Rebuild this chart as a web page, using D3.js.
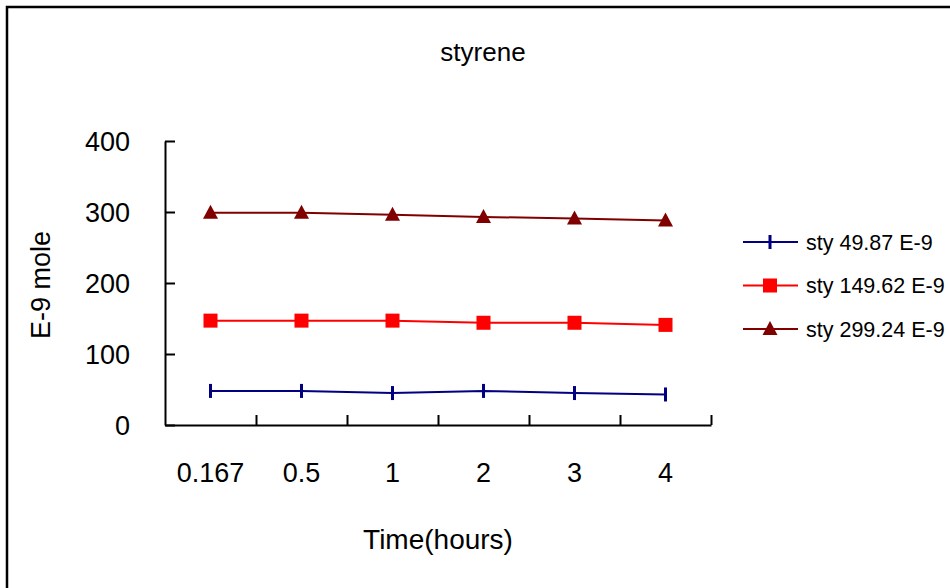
<!DOCTYPE html>
<html>
<head>
<meta charset="UTF-8">
<title>styrene</title>
<script src="https://d3js.org/d3.v7.min.js"></script>
<style>
  body { margin: 0; background: #fff; }
  text { font-family: "Liberation Sans", Arial, sans-serif; fill: #000; }
</style>
</head>
<body>
<div id="chart"></div>
<script>
// data
var categories = ["0.167", "0.5", "1", "2", "3", "4"];
var sty49 = [48, 48, 45, 48, 45, 43];
var sty149 = [147, 147, 147, 144, 144, 141];
var sty299 = [299, 299, 296, 293, 291, 288];
var seriesNames = ["sty 49.87 E-9", "sty 149.62 E-9", "sty 299.24 E-9"];
var yTicks = [0, 100, 200, 300, 400];

var series = [
  {name: seriesNames[0], values: sty49, color: "#000080", marker: "bar"},
  {name: seriesNames[1], values: sty149, color: "#ff0000", marker: "square"},
  {name: seriesNames[2], values: sty299, color: "#800000", marker: "triangle"}
];

var width = 950, height = 588;
var plotLeft = 165, plotRight = 711, plotTop = 141, plotBottom = 425;

var svg = d3.select("#chart").append("svg")
  .attr("width", width)
  .attr("height", height);

// outer frame (runs off the right and bottom edge)
svg.append("rect")
  .attr("x", 7).attr("y", 7)
  .attr("width", 960).attr("height", 600)
  .attr("fill", "none").attr("stroke", "#000").attr("stroke-width", 2.5);

var x = d3.scaleBand().domain(categories).range([plotLeft, plotRight]);
var xEdge = d3.scaleLinear().domain([0, categories.length]).range([plotLeft, plotRight]);
var y = d3.scaleLinear().domain([0, 400]).range([plotBottom, plotTop]);

// y axis, ticks pointing inside
var yAxis = svg.append("g")
  .attr("transform", "translate(" + plotLeft + ",0)")
  .call(d3.axisLeft(y).tickValues(yTicks).tickSize(-10).tickSizeOuter(0).tickPadding(35));
yAxis.select(".domain").attr("stroke-width", 2);
yAxis.selectAll(".tick line").attr("stroke-width", 2);
yAxis.selectAll(".tick text").attr("font-size", 27).attr("dy", "0.36em");

// x axis: ticks on category edges pointing up
var xAxis = svg.append("g")
  .attr("transform", "translate(0," + plotBottom + ")")
  .call(d3.axisBottom(xEdge).tickValues(d3.range(1, categories.length + 1))
    .tickSize(-10).tickSizeOuter(0).tickFormat(""));
xAxis.select(".domain").attr("stroke-width", 2);
xAxis.selectAll(".tick line").attr("stroke-width", 2);

// x labels
var xLabels = svg.append("g")
  .attr("transform", "translate(0," + plotBottom + ")")
  .call(d3.axisBottom(x).tickSize(0).tickPadding(38));
xLabels.select(".domain").remove();
xLabels.selectAll(".tick text").attr("font-size", 27);

// lines
var line = d3.line()
  .x(function(d, i) { return x(categories[i]) + x.bandwidth() / 2; })
  .y(function(d) { return y(d); });

function drawMarker(g, type, color) {
  if (type === "bar") {
    g.append("rect").attr("x", -1.5).attr("y", -7).attr("width", 3).attr("height", 14).attr("fill", color);
  } else if (type === "square") {
    g.append("rect").attr("x", -7).attr("y", -7).attr("width", 14).attr("height", 14).attr("fill", color);
  } else {
    g.append("path").attr("d", "M0,-8L7.5,6L-7.5,6Z").attr("fill", color);
  }
}

series.forEach(function(s) {
  svg.append("path")
    .datum(s.values)
    .attr("d", line)
    .attr("fill", "none")
    .attr("stroke", s.color)
    .attr("stroke-width", 2);
  s.values.forEach(function(v, i) {
    var g = svg.append("g")
      .attr("transform", "translate(" + (x(categories[i]) + x.bandwidth() / 2) + "," + y(v) + ")");
    drawMarker(g, s.marker, s.color);
  });
});

// title and axis titles
svg.append("text")
  .attr("x", 483).attr("y", 61)
  .attr("text-anchor", "middle").attr("font-size", 26)
  .text("styrene");

svg.append("text")
  .attr("x", 438).attr("y", 549)
  .attr("text-anchor", "middle").attr("font-size", 28)
  .text("Time(hours)");

svg.append("text")
  .attr("transform", "translate(50,285) rotate(-90)")
  .attr("text-anchor", "middle").attr("font-size", 27)
  .text("E-9 mole");

// legend
var legend = svg.append("g");
series.forEach(function(s, i) {
  var ly = 242 + i * 43.5;
  var g = legend.append("g").attr("transform", "translate(0," + ly + ")");
  g.append("line").attr("x1", 743).attr("x2", 798)
    .attr("stroke", s.color).attr("stroke-width", 2);
  var m = g.append("g").attr("transform", "translate(770,0)");
  drawMarker(m, s.marker, s.color);
  g.append("text").attr("x", 806).attr("y", 0).attr("dy", "0.36em")
    .attr("font-size", 21.5).text(s.name);
});
</script>
</body>
</html>
